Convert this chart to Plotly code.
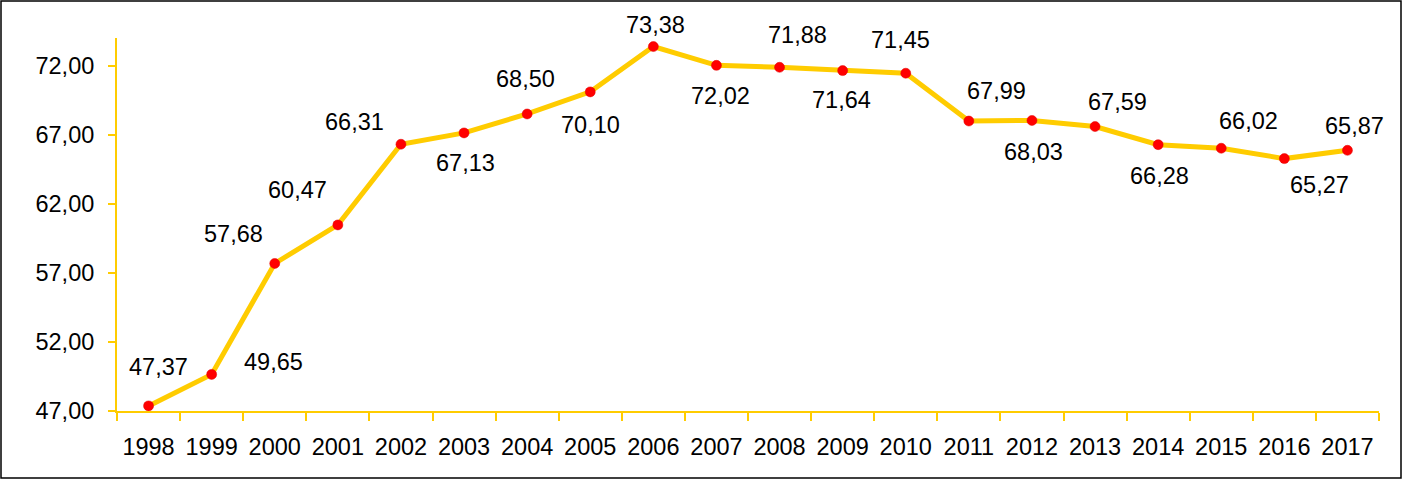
import plotly.graph_objects as go

years = [str(y) for y in range(1998, 2018)]
values = [47.37, 49.65, 57.68, 60.47, 66.31, 67.13, 68.50, 70.10, 73.38, 72.02,
          71.88, 71.64, 71.45, 67.99, 68.03, 67.59, 66.28, 66.02, 65.27, 65.87]
y_ticks = [47, 52, 57, 62, 67, 72]

# label offsets in pixels (dx right, dy down)
label_offsets = [(10, -39), (62, -12), (-41, -29), (-40, -35), (-46, -22), (1, 30),
                 (-2, -35), (0, 33), (2, -22), (4, 31), (18, -32), (-1, 29),
                 (-5, -33), (28, -30), (2, 32), (22, -25), (1, 31), (27, -27),
                 (35, 26), (7, -24)]

W, H = 1403, 480
ml, mr, mt, mb = 117, 24, 38, 69
pw, ph = W - ml - mr, H - mt - mb

FONT = "Liberation Sans, Arial, sans-serif"
FS = 23.5
YEL = "#FFCC00"

fig = go.Figure()
fig.add_trace(go.Scatter(
    x=years, y=values, mode="lines+markers",
    line=dict(color=YEL, width=5),
    marker=dict(color="#FF0000", size=10, line=dict(color="#E00000", width=0.5)),
    cliponaxis=False, hoverinfo="skip", showlegend=False,
))

for i, (v, (dx, dy)) in enumerate(zip(values, label_offsets)):
    fig.add_annotation(x=i, y=v, xref="x", yref="y",
                       text=f"{v:.2f}".replace(".", ","),
                       showarrow=False, xshift=dx, yshift=-dy,
                       font=dict(family=FONT, size=FS, color="#000000"))

# outer border of the whole image
fig.add_shape(type="rect", xref="paper", yref="paper",
              x0=(1 - ml) / pw, x1=(W - 2 - ml) / pw,
              y0=(H - mb - (H - 2)) / ph, y1=(H - mb - 1) / ph,
              line=dict(color="#000000", width=1.5), fillcolor="rgba(0,0,0,0)",
              layer="above")

fig.update_layout(
    width=W, height=H,
    margin=dict(l=ml, r=mr, t=mt, b=mb, pad=0, autoexpand=False),
    paper_bgcolor="white", plot_bgcolor="white",
    separators=",.",
    font=dict(family=FONT, size=FS, color="#000000"),
    xaxis=dict(
        type="category", range=[-0.5, len(years) - 0.5],
        showline=True, linecolor=YEL, linewidth=2, tickangle=0, automargin=False,
        ticks="outside", tickson="boundaries", ticklen=8, tickcolor=YEL, tickwidth=2,
        showgrid=False, zeroline=False, ticklabelstandoff=14,
        tickfont=dict(family=FONT, size=FS, color="#000000"),
    ),
    yaxis=dict(
        range=[47, 74], tickvals=y_ticks, tickformat=".2f", automargin=False,
        showline=True, linecolor=YEL, linewidth=2,
        ticks="outside", ticklen=7, tickcolor=YEL, tickwidth=2,
        showgrid=False, zeroline=False, ticklabelstandoff=9,
        tickfont=dict(family=FONT, size=FS, color="#000000"),
    ),
)

fig.write_html("out.html", config={"displayModeBar": False},
               post_script="document.body.style.margin='0';document.body.style.overflow='hidden';")
